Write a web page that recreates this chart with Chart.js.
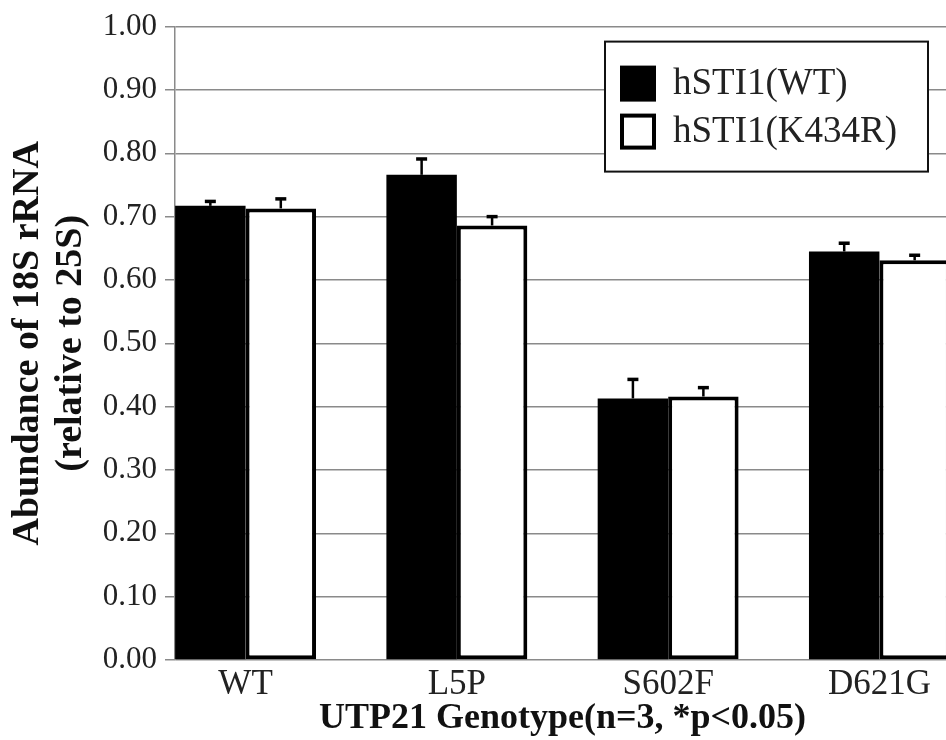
<!DOCTYPE html>
<html>
<head>
<meta charset="utf-8">
<title>18S rRNA abundance</title>
<script src="https://cdn.jsdelivr.net/npm/chart.js@4.4.1/dist/chart.umd.min.js"></script>
<style>
  html, body { margin: 0; padding: 0; background: #fff; overflow: hidden; }
  #wrap { width: 950px; height: 740px; }
</style>
</head>
<body>
<div id="wrap"><canvas id="rrnaChart"></canvas></div>
<script>
// 데이터
const genotypes = ['WT', 'L5P', 'S602F', 'D621G'];
const seriesNames = ['hSTI1(WT)', 'hSTI1(K434R)'];
const wtValues = [0.717, 0.766, 0.413, 0.645];
const wtErrors = [0.007, 0.025, 0.030, 0.013];
const k434rValues = [0.713, 0.686, 0.416, 0.631];
const k434rErrors = [0.015, 0.014, 0.014, 0.008];
const yTicks = [0, 0.1, 0.2, 0.3, 0.4, 0.5, 0.6, 0.7, 0.8, 0.9, 1.0];

const SERIF = "'Liberation Serif', 'Times New Roman', serif";

// 오차 막대 (위쪽만)
const errorBars = {
    id: 'errorBars',
    afterDatasetsDraw(chart) {
        const ctx = chart.ctx;
        const yScale = chart.scales.y;
        chart.data.datasets.forEach((ds, di) => {
            const meta = chart.getDatasetMeta(di);
            meta.data.forEach((bar, i) => {
                const top = yScale.getPixelForValue(ds.data[i].y + ds.errors[i]);
                ctx.save();
                ctx.strokeStyle = '#000';
                ctx.lineWidth = 2.5;
                ctx.beginPath();
                ctx.moveTo(bar.x, bar.y);
                ctx.lineTo(bar.x, top);
                ctx.stroke();
                ctx.lineWidth = 3.5;
                ctx.beginPath();
                ctx.moveTo(bar.x - 5.5, top);
                ctx.lineTo(bar.x + 5.5, top);
                ctx.stroke();
                ctx.restore();
            });
        });
    }
};

// 차트 안쪽 범례 상자
const legendBox = {
    id: 'legendBox',
    afterDraw(chart) {
        const ctx = chart.ctx;
        const area = chart.chartArea;
        const x0 = area.left + 430, y0 = area.top + 15, w = 323, h = 130;
        ctx.save();
        ctx.fillStyle = '#fff';
        ctx.fillRect(x0, y0, w, h);
        ctx.strokeStyle = '#111';
        ctx.lineWidth = 2;
        ctx.strokeRect(x0, y0, w, h);
        ctx.font = '37px ' + SERIF;
        ctx.textBaseline = 'middle';
        chart.data.datasets.forEach((ds, i) => {
            const sy = y0 + 24 + i * 48;
            if (i === 0) {
                ctx.fillStyle = '#000';
                ctx.fillRect(x0 + 15, sy, 36, 36);
            } else {
                ctx.fillStyle = '#fff';
                ctx.fillRect(x0 + 15, sy, 36, 36);
                ctx.strokeStyle = '#000';
                ctx.lineWidth = 4;
                ctx.strokeRect(x0 + 17, sy + 2, 32, 32);
            }
            ctx.fillStyle = '#222';
            ctx.fillText(ds.label, x0 + 68, sy + 19);
        });
        ctx.restore();
    }
};

const ctx = document.getElementById('rrnaChart').getContext('2d');
new Chart(ctx, {
    type: 'bar',
    data: {
        datasets: [
            {
                label: seriesNames[0],
                data: wtValues.map((v, i) => ({ x: i, y: v })),
                errors: wtErrors,
                backgroundColor: '#000',
                borderWidth: 0
            },
            {
                label: seriesNames[1],
                data: k434rValues.map((v, i) => ({ x: i, y: v })),
                errors: k434rErrors,
                backgroundColor: '#fff',
                borderColor: '#000',
                borderWidth: 4,
                borderSkipped: false
            }
        ]
    },
    options: {
        responsive: true,
        maintainAspectRatio: false,
        animation: false,
        categoryPercentage: 0.667,
        barPercentage: 1.0,
        layout: { padding: { top: 0, right: 0, bottom: 0, left: 0 } },
        plugins: {
            legend: { display: false },
            tooltip: { enabled: false }
        },
        scales: {
            x: {
                type: 'linear',
                offset: false,
                min: -0.334,
                max: 3.334,
                afterBuildTicks: (scale) => {
                    scale.ticks = genotypes.map((g, i) => ({ value: i }));
                },
                afterFit: (scale) => { scale.height = 80; },
                grid: { display: false, offset: false },
                border: { display: false },
                ticks: {
                    callback: (v) => genotypes[Math.round(v)],
                    font: { family: SERIF, size: 35 },
                    color: '#222',
                    padding: -4,
                    maxRotation: 0
                },
                title: {
                    display: true,
                    text: 'UTP21 Genotype(n=3, *p<0.05)',
                    font: { family: SERIF, size: 36, weight: 'bold' },
                    color: '#111',
                    padding: 0
                }
            },
            y: {
                min: 0,
                max: 1,
                afterBuildTicks: (scale) => {
                    scale.ticks = yTicks.map(v => ({ value: v }));
                },
                afterFit: (scale) => { scale.width = 175; },
                grid: { color: '#8a8a8a', lineWidth: 1.5, tickLength: 10 },
                border: { display: true, color: '#8a8a8a', width: 1.5 },
                ticks: {
                    callback: (v) => v.toFixed(2),
                    font: { family: SERIF, size: 31 },
                    color: '#222',
                    padding: 8
                },
                title: {
                    display: true,
                    text: ['Abundance of 18S rRNA', '(relative to 25S)'],
                    font: { family: SERIF, size: 38, weight: 'bold', lineHeight: 1.15 },
                    color: '#111',
                    padding: { top: 6, bottom: 0 }
                }
            }
        }
    },
    plugins: [errorBars, legendBox]
});
</script>
</body>
</html>
